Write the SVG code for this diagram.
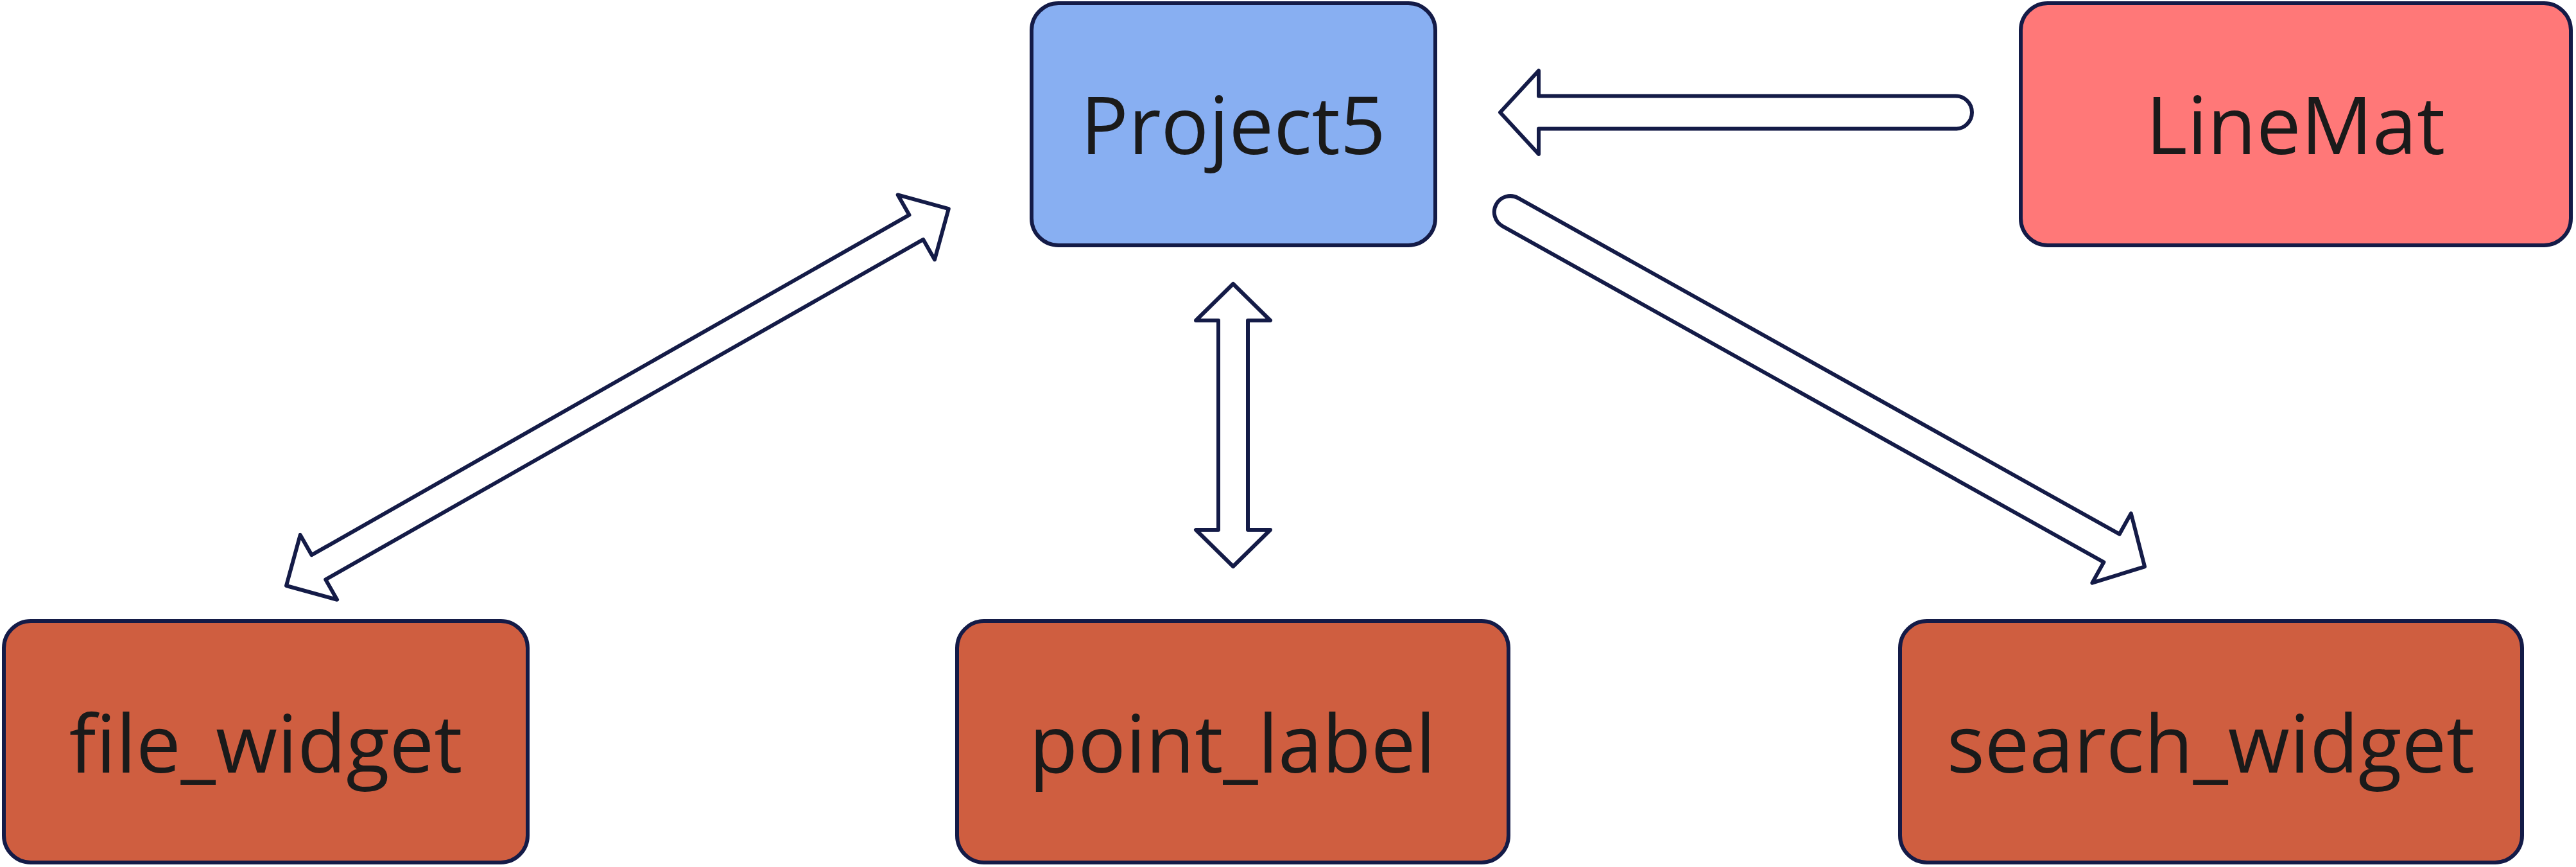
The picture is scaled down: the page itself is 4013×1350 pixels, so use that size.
<svg xmlns="http://www.w3.org/2000/svg" width="4013" height="1350" viewBox="0 0 4013 1350">
<style>
.node{stroke:#141B47;stroke-width:6}
.lbl{font-family:"Open Sans","Noto Sans","Liberation Sans",sans-serif;font-size:124px;fill:#1A1A1A;text-anchor:middle}
.conn{fill:#FFFFFF;stroke:#141B47;stroke-width:6;stroke-linejoin:round}
</style>
<rect width="4013" height="1350" fill="#FFFFFF"/>
<g id="connectors">
<path class="conn" transform="translate(3072,175) rotate(180)" d="M25.5,-25.5 L675,-25.5 L675,-65 L735,0 L675,65 L675,25.5 L25.5,25.5 A25.5,25.5 0 0 1 25.5,-25.5 Z"/>
<path class="conn" transform="translate(1921,442) rotate(90)" d="M0,0 L57,-58 L57,-23 L383,-23 L383,-58 L440,0 L383,58 L383,23 L57,23 L57,58 Z"/>
<path class="conn" transform="translate(446,912) rotate(-29.63)" d="M0,0 L58,-58 L58,-22 L1129,-22 L1129,-58 L1187,0 L1129,58 L1129,22 L58,22 L58,58 Z"/>
<path class="conn" transform="translate(2331,318) rotate(29.19)" d="M25,-25 L1098,-25 L1098,-62 L1157,0 L1098,62 L1098,25 L25,25 A25,25 0 0 1 25,-25 Z"/>
</g>
<g id="node-project5">
<rect class="node" x="1607" y="5" width="629" height="377" rx="42" fill="#88AFF2"/>
<text class="lbl" x="1921" y="240">Project5</text>
</g>
<g id="node-linemat">
<rect class="node" x="3148" y="5" width="857" height="377" rx="42" fill="#FF7878"/>
<text class="lbl" x="3576" y="240">LineMat</text>
</g>
<g id="node-file_widget">
<rect class="node" x="6" y="967" width="816" height="376" rx="42" fill="#CF5E40"/>
<text class="lbl" x="414" y="1203">file_widget</text>
</g>
<g id="node-point_label">
<rect class="node" x="1491" y="967" width="859" height="376" rx="42" fill="#CF5E40"/>
<text class="lbl" x="1920" y="1203">point_label</text>
</g>
<g id="node-search_widget">
<rect class="node" x="2960" y="967" width="969" height="376" rx="42" fill="#CF5E40"/>
<text class="lbl" x="3444" y="1203">search_widget</text>
</g>
</svg>
